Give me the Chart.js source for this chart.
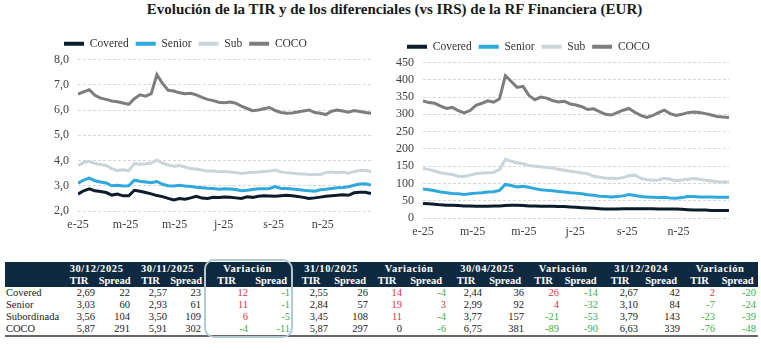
<!DOCTYPE html>
<html>
<head>
<meta charset="utf-8">
<script src="https://cdn.jsdelivr.net/npm/chart.js@4.4.1/dist/chart.umd.min.js"></script>
<style>
body { margin: 0; width: 761px; height: 350px; background: #fff; position: relative; overflow: hidden; font-family: "Liberation Serif", serif; }
#titulo { position: absolute; left: 14px; top: 1px; width: 761px; text-align: center; font-weight: bold; font-size: 15px; color: #1a1a1a; white-space: nowrap; }
canvas { position: absolute; }
#g1 { left: 40px; top: 31px; }
#g2 { left: 380px; top: 34px; }
#tabla { position: absolute; left: 5px; top: 262px; border-collapse: collapse; table-layout: fixed; font-size: 10.5px; color: #222; }
#tabla td { padding: 0 2px 0 0; height: 12px; line-height: 12px; text-align: right; white-space: nowrap; overflow: hidden; }
#tabla tr.cab td { background: #0f2a40; color: #fff; font-weight: bold; text-align: center; padding: 0; }
#tabla tr.cab1 td { height: 13px; line-height: 13px; letter-spacing: 0.6px; }
#tabla td.lab { text-align: left; padding-left: 1px; }
#tabla tr.ultima td { border-bottom: 2px solid #666; }
.sube { color: #e0353f; }
.baja { color: #3fae49; }
#marco { position: absolute; left: 204px; top: 259px; width: 89px; height: 79px; box-sizing: border-box; border: 2px solid #b3cad1; border-radius: 10px; }
</style>
</head>
<body>
<div id="titulo">Evolución de la TIR y de los diferenciales (vs IRS) de la RF Financiera (EUR)</div>
<canvas id="g1" width="340" height="202"></canvas>
<canvas id="g2" width="358" height="206"></canvas>
<table id="tabla"></table>
<div id="marco"></div>
<script>
const fechas = [
  '2025-01-01','2025-01-08','2025-01-15','2025-01-22','2025-01-29','2025-02-05','2025-02-12','2025-02-19','2025-02-26',
  '2025-03-05','2025-03-12','2025-03-19','2025-03-26','2025-04-02','2025-04-09','2025-04-16','2025-04-23','2025-04-30',
  '2025-05-07','2025-05-14','2025-05-21','2025-05-28','2025-06-04','2025-06-11','2025-06-18','2025-06-25',
  '2025-07-02','2025-07-09','2025-07-16','2025-07-23','2025-07-30','2025-08-06','2025-08-13','2025-08-20','2025-08-27',
  '2025-09-03','2025-09-10','2025-09-17','2025-09-24','2025-10-01','2025-10-08','2025-10-15','2025-10-22','2025-10-29',
  '2025-11-05','2025-11-12','2025-11-19','2025-11-26','2025-12-03','2025-12-10','2025-12-17','2025-12-24','2025-12-31'
];
const series = ['Covered', 'Senior', 'Sub', 'COCO'];
const colores = ['#0c1c2a', '#2fa9dc', '#c9d5da', '#7d7d7d'];

const tirCovered = [2.67,2.80,2.88,2.80,2.77,2.73,2.63,2.67,2.60,2.60, 2.82,2.78,2.73,2.68,2.61,2.57,2.50,2.44,2.49,2.47, 2.52,2.58,2.51,2.50,2.54,2.53,2.55,2.54,2.52,2.50, 2.56,2.54,2.58,2.60,2.59,2.58,2.60,2.62,2.60,2.57, 2.54,2.50,2.52,2.55,2.58,2.60,2.62,2.64,2.62,2.72, 2.74,2.74,2.69];
const tirSenior = [3.10,3.22,3.30,3.20,3.15,3.11,3.00,3.02,2.99,3.00, 3.22,3.18,3.15,3.12,3.17,3.06,3.00,2.99,3.02,2.99, 2.97,2.94,2.92,2.90,2.89,2.86,2.88,2.87,2.85,2.80, 2.82,2.85,2.88,2.88,2.89,2.97,2.89,2.89,2.87,2.85, 2.82,2.80,2.78,2.84,2.86,2.89,2.92,2.93,2.96,3.02, 3.07,3.08,3.03];
const tirSub = [3.79,3.92,3.97,3.88,3.84,3.80,3.68,3.60,3.63,3.60, 3.88,3.85,3.87,3.90,4.02,3.90,3.82,3.77,3.80,3.74, 3.68,3.66,3.62,3.58,3.58,3.55,3.56,3.54,3.52,3.49, 3.51,3.53,3.54,3.56,3.58,3.62,3.55,3.52,3.50,3.48, 3.47,3.44,3.45,3.45,3.52,3.54,3.52,3.54,3.50,3.56, 3.60,3.60,3.56];
const tirCoco = [6.63,6.72,6.80,6.58,6.47,6.42,6.36,6.33,6.28,6.22, 6.45,6.60,6.55,6.65,7.40,7.05,6.78,6.75,6.68,6.64, 6.66,6.60,6.50,6.42,6.37,6.31,6.29,6.32,6.27,6.15, 6.06,5.97,6.00,6.05,6.10,5.98,5.90,5.87,5.88,5.92, 5.96,6.00,5.90,5.87,5.82,5.95,6.00,5.96,5.91,5.98, 5.94,5.90,5.87];

const spreadCovered = [42,41,40,38,37,37,36,35,35,34, 34,34,35,35,36,37,37,36,35,35, 34,34,34,33,33,32,31,30,29,28, 27,26,26,26,27,27,27,27,27,27, 26,26,26,26,25,24,23,23,23,22, 22,22,22];
const spreadSenior = [84,82,79,75,73,71,70,68,70,72, 73,75,76,80,97,94,90,92,89,85, 82,80,79,77,75,73,72,70,67,66, 63,62,61,62,64,68,65,62,61,60, 59,60,58,57,59,62,62,61,61,61, 60,60,60];
const spreadSub = [143,140,136,131,128,126,121,120,124,128, 130,131,132,140,170,164,160,157,152,150, 148,146,145,141,138,135,133,130,128,121, 118,116,115,114,117,122,124,115,111,109, 110,115,112,108,110,112,114,112,109,107, 105,104,104];
const spreadCoco = [339,334,332,324,317,320,311,304,311,326, 332,339,335,345,412,395,378,381,355,342, 350,347,340,336,338,330,327,322,314,316, 308,300,298,305,312,317,306,297,291,296, 305,312,302,297,300,305,307,305,302,298, 294,292,291];

const tickFechas = ['2025-01-01','2025-03-01','2025-05-01','2025-07-01','2025-09-01','2025-11-01'];
const tickLabels = ['e-25','m-25','m-25','j-25','s-25','n-25'];

// tabla
const filasTabla = ['Covered', 'Senior', 'Subordinada', 'COCO'];
const fechasTabla = ['30/12/2025', '30/11/2025', '31/10/2025', '30/04/2025', '31/12/2024'];
const tirTabla = [[2.69,3.03,3.56,5.87],[2.57,2.93,3.50,5.91],[2.55,2.84,3.45,5.87],[2.44,2.99,3.77,6.75],[2.67,3.10,3.79,6.63]];
const spreadTabla = [[22,60,104,291],[23,61,109,302],[26,57,108,297],[36,92,157,381],[42,84,143,339]];
const varTir = [[12,11,6,-4],[14,19,11,0],[26,4,-21,-89],[2,-7,-23,-76]];
const varSpread = [[-1,-1,-5,-11],[-4,3,-4,-6],[-14,-32,-53,-90],[-20,-24,-39,-48]];
const anchos = [55, 36,35, 37,34, 47,42, 38,40, 34,44, 36,42, 35,39, 40,42, 35,41];

const fuente = 'Liberation Serif';
const dia0 = Date.UTC(2025, 0, 1);
function aDia(f) {
  const p = f.split('-').map(Number);
  return (Date.UTC(p[0], p[1] - 1, p[2]) - dia0) / 86400000;
}
const dias = fechas.map(aDia);
const tickDias = tickFechas.map(aDia);

// desplaza la leyenda a la derecha sin mover el area del grafico
const moverLeyenda = {
  id: 'moverLeyenda',
  afterLayout(chart, args, opts) {
    chart.legend.left += opts.dx;
    chart.legend.right += opts.dx;
  }
};

function crearGrafico(id, valores, yMin, yMax, paso, anchoEje, dx, formato) {
  const datasets = series.map((nombre, i) => ({
    label: nombre,
    data: valores[i].map((v, k) => ({ x: dias[k], y: v })),
    borderColor: colores[i],
    backgroundColor: colores[i],
    borderWidth: 3,
    pointRadius: 0,
    tension: 0
  }));
  return new Chart(document.getElementById(id), {
    type: 'line',
    data: { datasets: datasets },
    plugins: [moverLeyenda],
    options: {
      responsive: false,
      animation: false,
      layout: { padding: { right: 9, top: 0, bottom: 0 } },
      scales: {
        x: {
          type: 'linear',
          min: 0,
          max: 364,
          afterFit: scale => { scale.height = 22; },
          grid: { display: false, drawTicks: false },
          border: { display: false },
          afterBuildTicks: scale => { scale.ticks = tickDias.map(v => ({ value: v })); },
          ticks: {
            autoSkip: false,
            maxRotation: 0,
            padding: 7,
            color: '#404040',
            font: { family: fuente, size: 12 },
            callback: (v, i) => tickLabels[i]
          }
        },
        y: {
          min: yMin,
          max: yMax,
          afterFit: scale => { scale.width = anchoEje; },
          grid: { color: '#d6d6d6', drawTicks: false },
          border: { display: false, dash: [3, 2] },
          ticks: {
            stepSize: paso,
            autoSkip: false,
            padding: 9,
            color: '#404040',
            font: { family: fuente, size: 12 },
            callback: formato
          }
        }
      },
      plugins: {
        tooltip: { enabled: false },
        moverLeyenda: { dx: dx },
        legend: {
          position: 'top',
          align: 'start',
          labels: {
            usePointStyle: true,
            pointStyleWidth: 20,
            padding: 7,
            color: '#333',
            font: { family: fuente, size: 11.5 },
            generateLabels: chart => Chart.defaults.plugins.legend.labels.generateLabels(chart).map(l => ({ ...l, pointStyle: 'line', lineWidth: 4 }))
          }
        }
      }
    }
  });
}

crearGrafico('g1', [tirCovered, tirSenior, tirSub, tirCoco], 2, 8, 1, 38, 17, v => v.toFixed(1).replace('.', ','));
crearGrafico('g2', [spreadCovered, spreadSenior, spreadSub, spreadCoco], 0, 450, 50, 43, 20, v => String(v));

// tabla
function fmtTir(v) { return v.toFixed(2).replace('.', ','); }
function clase(v) { return v > 0 ? 'sube' : (v < 0 ? 'baja' : ''); }

let html = '<colgroup>' + anchos.map(w => '<col style="width:' + w + 'px">').join('') + '</colgroup>';
let cab1 = '<tr class="cab cab1"><td></td><td colspan="2">' + fechasTabla[0] + '</td>';
let cab2 = '<tr class="cab"><td></td><td>TIR</td><td>Spread</td>';
for (let j = 1; j < fechasTabla.length; j++) {
  cab1 += '<td colspan="2">' + fechasTabla[j] + '</td><td colspan="2">Variación</td>';
  cab2 += '<td>TIR</td><td>Spread</td><td>TIR</td><td>Spread</td>';
}
html += cab1 + '</tr>' + cab2 + '</tr>';
filasTabla.forEach((fila, r) => {
  let tr = '<tr' + (r === filasTabla.length - 1 ? ' class="ultima"' : '') + '><td class="lab">' + fila + '</td>';
  tr += '<td>' + fmtTir(tirTabla[0][r]) + '</td><td>' + spreadTabla[0][r] + '</td>';
  for (let j = 1; j < fechasTabla.length; j++) {
    tr += '<td>' + fmtTir(tirTabla[j][r]) + '</td><td>' + spreadTabla[j][r] + '</td>';
    const vt = varTir[j - 1][r], vs = varSpread[j - 1][r];
    tr += '<td class="' + clase(vt) + '">' + vt + '</td><td class="' + clase(vs) + '">' + vs + '</td>';
  }
  html += tr + '</tr>';
});
document.getElementById('tabla').innerHTML = html;
</script>
</body>
</html>
